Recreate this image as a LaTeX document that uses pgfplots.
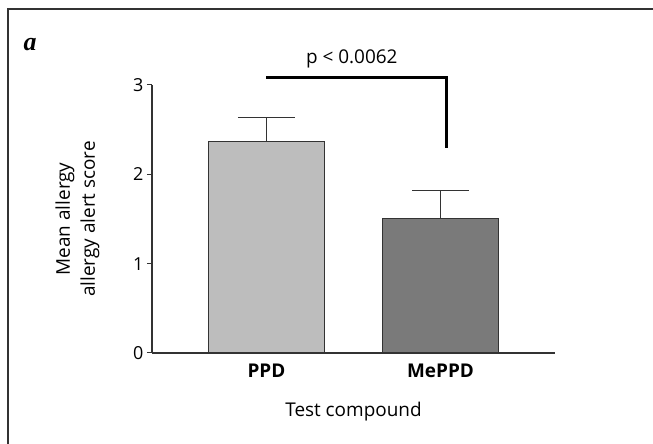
\documentclass[border=0pt]{standalone}
\usepackage{pgfplots}
\pgfplotsset{compat=1.18}
\usepackage{fontspec}
\setmainfont{Open Sans}
\newfontfamily\serifbi{Liberation Serif}
\definecolor{barlight}{HTML}{BDBDBD}
\definecolor{bardark}{HTML}{7A7A7A}
\definecolor{edge}{HTML}{333333}

\begin{document}
\begin{tikzpicture}[x=1bp,y=1bp]
% picture area and frame (only left and top edges are visible)
\path[use as bounding box] (-152,-91) rectangle (501,353);
\draw[edge,line width=1.2bp] (-144,-91) -- (-144,344) -- (501,344);
\node at (-122,308) {\serifbi\fontsize{26}{28}\selectfont\bfseries\itshape a};

\begin{axis}[
  at={(0,0)}, anchor=south west,
  scale only axis,
  width=403bp, height=268bp,
  xmin=-0.658, xmax=1.658,
  ymin=0, ymax=3,
  axis x line*=bottom,
  axis y line*=left,
  axis line style={edge,line width=1.1bp},
  ytick={0,1,2,3},
  xtick={0,1},
  xticklabels={\textbf{PPD},\textbf{MePPD}},
  major x tick style={draw=none},
  tick style={edge,line width=1bp},
  tick align=outside,
  major tick length=5bp,
  yticklabel style={font=\fontsize{18}{20}\selectfont},
  xticklabel style={font=\fontsize{19}{20}\selectfont, yshift=-2bp},
  /pgf/number format/assume math mode=true,
  xlabel={Test compound},
  xlabel style={font=\fontsize{19}{20}\selectfont, at={(axis description cs:0.5,0)}, anchor=center, yshift=-59bp},
  ylabel={Mean allergy\\allergy alert score},
  ylabel style={font=\fontsize{19}{25}\selectfont, align=center, at={(axis description cs:-0.185,0.5)}, anchor=center},
  clip=false,
]
\addplot[ybar, bar width=116bp, fill=barlight, draw=edge, line width=1.1bp,
  error bars/.cd, y dir=plus, y explicit,
  error bar style={edge,line width=1.1bp},
  error mark options={rotate=90,edge,line width=1.1bp,mark size=28.5bp}]
  coordinates {(0,2.37) +- (0,0.27)};
\addplot[ybar, bar width=116bp, fill=bardark, draw=edge, line width=1.1bp,
  error bars/.cd, y dir=plus, y explicit,
  error bar style={edge,line width=1.1bp},
  error mark options={rotate=90,edge,line width=1.1bp,mark size=28.5bp}]
  coordinates {(1,1.505) +- (0,0.315)};
\draw[black,line width=3bp] (axis cs:0,3.08) -- (axis cs:1.032,3.08) -- (axis cs:1.032,2.29);
\node[font=\fontsize{19}{20}\selectfont] at (axis cs:0.49,3.29) {p < 0.0062};
\end{axis}
\end{tikzpicture}
\end{document}
